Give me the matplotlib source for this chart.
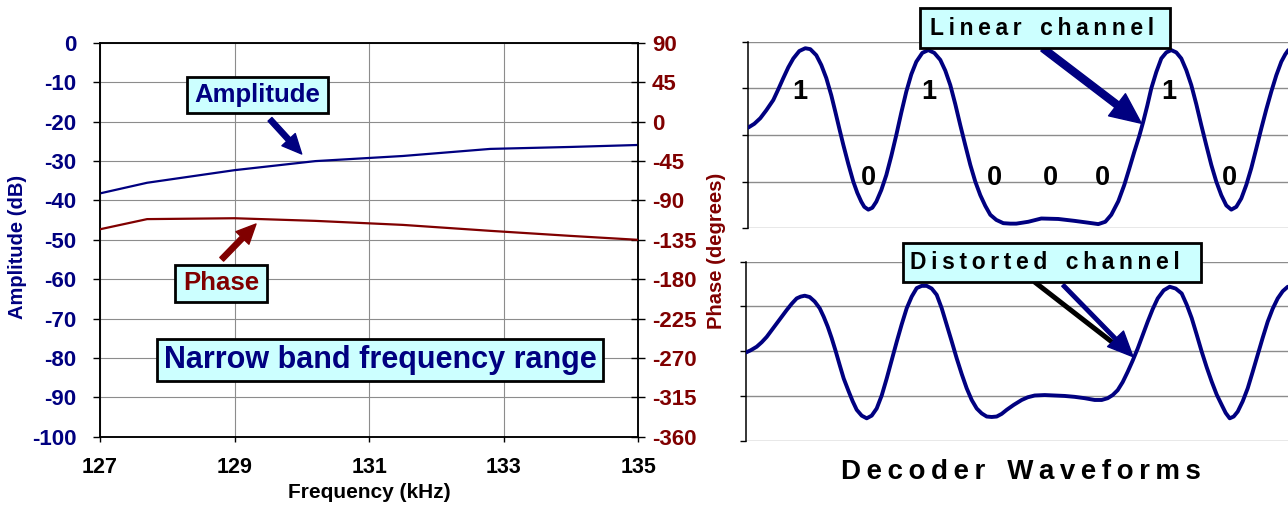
import matplotlib
matplotlib.use('Agg')
import matplotlib.pyplot as plt
from matplotlib.patches import Rectangle, FancyArrowPatch
from matplotlib.lines import Line2D

W, H = 1288, 508
plt.rcParams['font.family'] = ['Liberation Sans', 'DejaVu Sans']
plt.rcParams['font.weight'] = 'bold'
plt.rcParams['axes.unicode_minus'] = False

NAVY = '#000080'
DRED = '#800000'
CYAN = '#CCFFFF'
GRID = '#8c8c8c'

# ---------------- data ----------------
freq_khz = [127.0, 127.7, 129.0, 130.2, 131.5, 132.8, 134.0, 135.0]
amplitude_db = [-38.2, -35.5, -32.3, -30.0, -28.7, -26.9, -26.4, -25.9]
phase_deg = [-122.9, -111.3, -110.3, -113.3, -117.9, -124.7, -130.5, -135.0]

amp_ticks = list(range(-100, 1, 10))
phase_ticks = list(range(-360, 91, 45))
freq_ticks = [127, 129, 131, 133, 135]

linear_t = [0, 6, 12, 18, 25, 30, 35, 40, 45, 51, 57, 62, 68, 73, 78, 83, 87, 91,
            95, 100, 105, 109, 113, 116, 120, 124, 128, 133, 138, 143, 148, 153,
            158, 163, 168, 174, 180, 186, 192, 197, 202, 207, 212, 217, 222, 227,
            232, 237, 242, 248, 255, 262, 268, 280, 293, 310, 326, 340, 350, 357,
            363, 370, 376, 381, 386, 391, 395, 399, 403, 408, 413, 418, 423, 428,
            433, 438, 443, 448, 453, 458, 463, 468, 473, 478, 483, 488, 493, 498,
            503, 508, 513, 518, 523, 528, 533, 537, 540]
linear_v = [2.16, 2.24, 2.36, 2.53, 2.75, 2.98, 3.22, 3.45, 3.64, 3.80, 3.86, 3.84,
            3.71, 3.50, 3.22, 2.85, 2.50, 2.14, 1.79, 1.38, 1.00, 0.76, 0.57, 0.46,
            0.40, 0.44, 0.57, 0.82, 1.14, 1.55, 2.00, 2.48, 2.93, 3.30, 3.57, 3.76,
            3.82, 3.76, 3.61, 3.38, 3.07, 2.66, 2.21, 1.78, 1.36, 1.00, 0.71, 0.48,
            0.29, 0.18, 0.11, 0.10, 0.10, 0.14, 0.21, 0.20, 0.16, 0.12, 0.09, 0.14,
            0.29, 0.58, 0.93, 1.28, 1.64, 1.98, 2.29, 2.63, 3.00, 3.35, 3.64, 3.77,
            3.82, 3.77, 3.64, 3.39, 3.07, 2.66, 2.21, 1.78, 1.36, 1.00, 0.71, 0.49,
            0.40, 0.46, 0.64, 0.93, 1.29, 1.71, 2.14, 2.55, 2.93, 3.28, 3.57, 3.73,
            3.82]

distorted_t = [0, 5, 11, 16, 21, 26, 31, 36, 41, 46, 51, 55, 59, 64, 69, 74, 78,
               82, 86, 90, 94, 98, 103, 107, 111, 116, 121, 126, 131, 136, 141, 146,
               151, 156, 161, 166, 171, 176, 181, 186, 191, 196, 201, 206, 211, 216,
               221, 226, 231, 236, 241, 246, 251, 256, 261, 268, 276, 282, 289, 299,
               309, 319, 329, 339, 349, 356, 362, 367, 372, 377, 382, 387, 392, 397,
               402, 407, 412, 418, 424, 430, 436, 441, 446, 451, 456, 461, 466, 471,
               476, 480, 484, 488, 492, 497, 502, 507, 512, 517, 522, 527, 532, 537,
               542]
distorted_v = [1.97, 2.02, 2.10, 2.20, 2.32, 2.47, 2.62, 2.77, 2.92, 3.06, 3.18, 3.22,
               3.24, 3.21, 3.11, 2.96, 2.77, 2.55, 2.29, 2.00, 1.69, 1.39, 1.10, 0.88,
               0.69, 0.56, 0.50, 0.56, 0.72, 1.01, 1.39, 1.80, 2.21, 2.60, 2.96, 3.22,
               3.41, 3.46, 3.46, 3.40, 3.26, 2.96, 2.59, 2.22, 1.84, 1.49, 1.17, 0.91,
               0.72, 0.61, 0.54, 0.53, 0.54, 0.60, 0.69, 0.80, 0.91, 0.97, 1.01, 1.02,
               1.01, 1.00, 0.98, 0.95, 0.91, 0.91, 0.95, 1.02, 1.13, 1.31, 1.54, 1.79,
               2.06, 2.36, 2.66, 2.94, 3.18, 3.36, 3.44, 3.40, 3.29, 3.04, 2.74, 2.37,
               1.99, 1.64, 1.32, 1.03, 0.80, 0.62, 0.50, 0.54, 0.65, 0.88, 1.17, 1.54,
               1.92, 2.30, 2.66, 2.95, 3.18, 3.34, 3.44]

bit_labels = ['1', '0', '1', '0', '0', '0', '1', '0']
bit_t = [51.7, 120, 181, 245.7, 302.4, 353.7, 420.7, 481.4]

wave_levels = [0, 1, 2, 3, 4]

# ---------------- helpers ----------------
def rect(px0, py0, px1, py1):
    return [px0 / W, 1 - py1 / H, (px1 - px0) / W, (py1 - py0) / H]

def fpt(px, py):
    return (px / W, 1 - py / H)

def spaced(s):
    return '\u2009'.join(s).replace('\u2009 \u2009', '\u2009\u2009\u2009\u2009')

fig = plt.figure(figsize=(W / 100, H / 100), dpi=100)

def box(x0, y0, x1, y1, text, color, size, tx=None):
    fig.add_artist(Rectangle(fpt(x0, y1), (x1 - x0) / W, (y1 - y0) / H,
                             transform=fig.transFigure, facecolor=CYAN,
                             edgecolor='black', lw=2.0, zorder=5))
    if tx is None:
        fig.text((x0 + x1) / 2 / W, 1 - (y0 + y1) / 2 / H, text, color=color,
                 fontsize=size, ha='center', va='center', zorder=6)
    else:
        fig.text(tx / W, 1 - (y0 + y1) / 2 / H, text, color=color,
                 fontsize=size, ha='left', va='center', zorder=6)

def arrow(p0, p1, color, tail, hl, hw):
    fig.add_artist(FancyArrowPatch(fpt(*p0), fpt(*p1), transform=fig.transFigure,
                                   arrowstyle=f'simple,head_length={hl},head_width={hw},tail_width={tail}',
                                   mutation_scale=1, color=color, shrinkA=0, shrinkB=0,
                                   zorder=4))

# ---------------- left chart ----------------
ax = fig.add_axes(rect(100, 43, 638.3, 436.7))
ax.plot(freq_khz, amplitude_db, color=NAVY, lw=1.6, zorder=3)
ax.set_xlim(127, 135)
ax.set_ylim(-100, 0)
ax.set_xticks(freq_ticks)
ax.set_yticks(amp_ticks)
ax.grid(True, color=GRID, lw=0.8)
ax.set_axisbelow(True)
for s in ax.spines.values():
    s.set_color('black')
    s.set_linewidth(1.1)
ax.tick_params(axis='y', labelcolor=NAVY, color='black', direction='out',
               length=5, width=1, pad=12, labelsize=16)
ax.tick_params(axis='x', labelcolor='black', color='black', direction='out',
               length=3.6, width=1, pad=11, labelsize=15.5)

ax2 = ax.twinx()
ax2.plot(freq_khz, phase_deg, color=DRED, lw=1.6, zorder=3)
ax2.set_ylim(-360, 90)
ax2.set_yticks(phase_ticks)
for s in ax2.spines.values():
    s.set_color('black')
    s.set_linewidth(1.1)
ax2.tick_params(axis='y', labelcolor=DRED, color='black', direction='inout',
                length=9.4, width=1, pad=5, labelsize=16)

fig.text(18 / W, 1 - 247 / H, 'Amplitude (dB)', rotation=90, color=NAVY,
         fontsize=14.5, ha='center', va='center')
fig.text(717 / W, 1 - 251 / H, 'Phase (degrees)', rotation=90, color=DRED,
         fontsize=14.5, ha='center', va='center')
fig.text(369 / W, 1 - 493 / H, 'Frequency (kHz)', color='black',
         fontsize=15, ha='center', va='center')

box(186.7, 76.7, 328.3, 113.3, 'Amplitude', NAVY, 18.5)
box(175.4, 265, 266.5, 301.7, 'Phase', DRED, 18.5)
box(156.7, 339.3, 603.3, 380.7, 'Narrow band frequency range', NAVY, 22, tx=164)

arrow((270, 119.3), (301.7, 154), NAVY, 3.8, 14, 13)
arrow((221.7, 259.3), (256, 224), DRED, 3.8, 14, 13)

# ---------------- right waveforms ----------------
def wave_axes(r, t, v, xmax):
    a = fig.add_axes(r)
    a.plot(t, v, color=NAVY, lw=2.8, solid_capstyle='round',
           solid_joinstyle='round', zorder=3)
    a.set_xlim(0, xmax)
    a.set_ylim(0, 4)
    a.set_yticks(wave_levels)
    a.set_xticks([])
    a.yaxis.grid(True, color=GRID, lw=1.0)
    a.set_axisbelow(True)
    for k in ('top', 'right', 'bottom'):
        a.spines[k].set_visible(False)
    a.spines['left'].set_color('black')
    a.spines['left'].set_linewidth(1.1)
    a.tick_params(axis='y', direction='out', length=4, width=1, color='black',
                  labelleft=False)
    return a

axT = wave_axes(rect(748.3, 41.7, 1288, 228.3), linear_t, linear_v, 539.7)
axB = wave_axes(rect(745.7, 261.7, 1288, 440.7), distorted_t, distorted_v, 542.3)

for b, t in zip(bit_labels, bit_t):
    axT.text(t, 2.93 if b == '1' else 1.07, b, fontsize=19.5, ha='center',
             va='center', color='black', zorder=4)

box(920, 8.3, 1170.3, 48.3, spaced('Linear channel'), 'black', 16.5, tx=930)
box(902.6, 242.7, 1200.8, 281.7, spaced('Distorted channel'), 'black', 16.5, tx=910)

arrow((1043, 48.3), (1141.3, 123.3), NAVY, 5, 22, 20)
fig.add_artist(Line2D([1036.3 / W, 1118 / W], [1 - 283.3 / H, 1 - 346.7 / H],
                      transform=fig.transFigure, color='black', lw=3.6, zorder=4))
arrow((1063, 285), (1133, 356.7), NAVY, 2.5, 18, 16)

fig.text(1021 / W, 1 - 472 / H, spaced('Decoder Waveforms'), color='black',
         fontsize=20, ha='center', va='center')

fig.savefig('out.png', dpi=100)
